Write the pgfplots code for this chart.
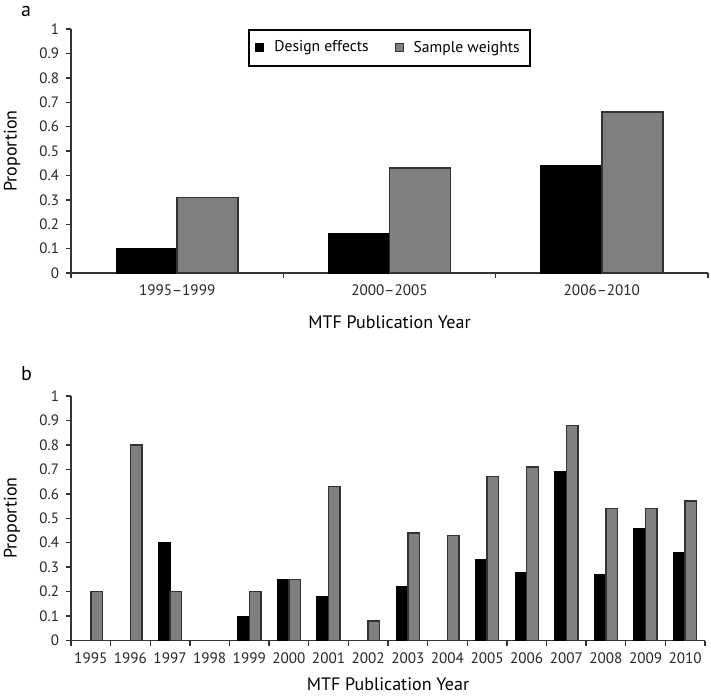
\documentclass[border=0pt]{standalone}
\usepackage{fontspec}
\setmainfont{PT Sans}
\usepackage{pgfplots}
\pgfplotsset{compat=1.18}
\definecolor{bargray}{HTML}{808080}
\definecolor{axisgray}{HTML}{333333}

\pgfplotstableread{
x design sample
0 0.10 0.31
1 0.16 0.43
2 0.44 0.66
}\groupdata

% zero-valued bars are not drawn in the reference, so they are omitted
\pgfplotstableread{
x design
2 0.40
4 0.10
5 0.25
6 0.18
8 0.22
10 0.33
11 0.28
12 0.69
13 0.27
14 0.46
15 0.36
}\yeardesign
\pgfplotstableread{
x sample
0 0.20
1 0.80
2 0.20
4 0.20
5 0.25
6 0.63
7 0.08
8 0.44
9 0.43
10 0.67
11 0.71
12 0.88
13 0.54
14 0.54
15 0.57
}\yearsample

\pgfplotsset{
  common/.style={
    scale only axis,
    axis lines*=left,
    axis line style={line width=0.7pt, axisgray},
    every tick/.style={line width=0.7pt, axisgray},
    ymin=0, ymax=1,
    ytick={0,0.1,0.2,0.3,0.4,0.5,0.6,0.7,0.8,0.9,1},
    yticklabels={0,0.1,0.2,0.3,0.4,0.5,0.6,0.7,0.8,0.9,1},
    tick align=outside,
    major tick length=2.5pt,
    yticklabel style={font=\fontsize{7.5}{9}\selectfont, text=black!85},
    xticklabel style={font=\fontsize{7.6}{9}\selectfont, text=black!85},
    /pgf/number format/assume math mode=true,
    x tick label as interval,
    ybar=0pt,
    clip=false,
  },
  dstyle/.style={fill=black, draw=black, line width=0.5pt},
  sstyle/.style={fill=bargray, draw=axisgray, line width=0.7pt},
}

\begin{document}
\begin{tikzpicture}
\path[use as bounding box] (0pt,0pt) rectangle (355.5pt,-348.5pt);

% ---------- panel a ----------
\begin{axis}[common,
  at={(35.5pt,-136.5pt)}, anchor=south west,
  width=318.5pt, height=122pt,
  xmin=-0.5, xmax=2.5,
  xtick={-0.5,0.5,1.5,2.5},
  xticklabels={1995--1999,2000--2005,2006--2010},
  bar width=30.5pt,
  legend columns=2,
  legend style={at={(0.5,1)}, anchor=north, draw=black, line width=0.9pt,
    font=\fontsize{7.8}{9}\selectfont, inner xsep=3pt, inner ysep=3.5pt,
    /tikz/every odd column/.append style={column sep=3pt},
    /tikz/every even column/.append style={column sep=11pt}},
  legend image code/.code={\draw[#1, line width=0.5pt] (0pt,-2pt) rectangle (4pt,2pt);},
]
\addplot[dstyle] table[x=x, y=design] {\groupdata};
\addlegendentry{Design effects}
\addplot[sstyle] table[x=x, y=sample] {\groupdata};
\addlegendentry{Sample weights}
\end{axis}

% ---------- panel b ----------
\begin{axis}[common,
  at={(35.5pt,-320.25pt)}, anchor=south west,
  width=317pt, height=122.25pt,
  xmin=-0.5, xmax=15.5,
  xtick={-0.5,0.5,...,15.5},
  xticklabels={1995,1996,1997,1998,1999,2000,2001,2002,2003,2004,2005,2006,2007,2008,2009,2010},
  bar width=5.8pt,
]
\addplot[dstyle] table[x=x, y=design] {\yeardesign};
\addplot[sstyle] table[x=x, y=sample] {\yearsample};
\end{axis}

% ---------- labels ----------
\node[anchor=base west, font=\fontsize{10}{12}\selectfont] at (7pt,-8pt) {a};
\node[anchor=base west, font=\fontsize{10}{12}\selectfont] at (7pt,-190pt) {b};
\node[rotate=90, font=\fontsize{9}{11}\selectfont] at (6pt,-75.5pt) {Proportion};
\node[rotate=90, font=\fontsize{9}{11}\selectfont] at (6pt,-259pt) {Proportion};
\node[anchor=base, font=\fontsize{9}{11}\selectfont] at (194.75pt,-164pt) {MTF Publication Year};
\node[anchor=base, font=\fontsize{9}{11}\selectfont] at (194pt,-345pt) {MTF Publication Year};
\end{tikzpicture}
\end{document}
